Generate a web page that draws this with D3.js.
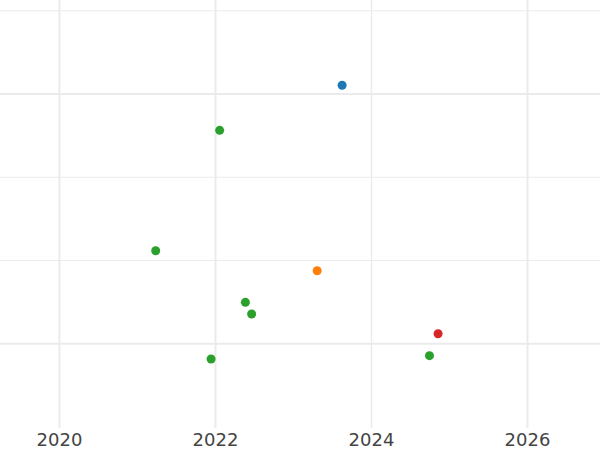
<!DOCTYPE html>
<html>
<head>
<meta charset="utf-8">
<script src="https://cdn.jsdelivr.net/npm/d3@7"></script>
<style>
  body { margin: 0; background: #fff; }
  svg { display: block; }
</style>
</head>
<body>
<div id="chart"></div>
<script>
// point data
const years  = [2023.63, 2022.06, 2021.24, 2023.31, 2022.39, 2022.47, 2024.86, 2024.75, 2021.95];
const values = [3.105, 2.564, 1.117, 0.877, 0.497, 0.357, 0.120, -0.144, -0.184];
const groups = ["A", "B", "B", "C", "B", "B", "D", "B", "B"];

const groupNames = ["A", "B", "C", "D"];
const groupColors = ["#1f77b4", "#2ca02c", "#ff7f0e", "#d62728"];

// ticks / gridlines
const xTicks = [2020, 2022, 2024, 2026];
const yMajor = [0, 3];
const yMinor = [1, 2, 4];

const width = 600, height = 450;
const plotBottom = 428;

const svg = d3.select("#chart")
  .append("svg")
  .attr("width", width)
  .attr("height", height);

const x = d3.scaleLinear()
  .domain([2019.244, 2026.936])
  .range([0, width]);

const y = d3.scaleLinear()
  .domain([-1.013, 4.13])
  .range([plotBottom, 0]);

const color = d3.scaleOrdinal()
  .domain(groupNames)
  .range(groupColors);

// horizontal grid
svg.append("g")
  .selectAll("line")
  .data(yMinor)
  .join("line")
  .attr("x1", 0).attr("x2", width)
  .attr("y1", d => y(d)).attr("y2", d => y(d))
  .attr("stroke", "#ebebeb")
  .attr("stroke-width", 1);

svg.append("g")
  .selectAll("line")
  .data(yMajor)
  .join("line")
  .attr("x1", 0).attr("x2", width)
  .attr("y1", d => y(d)).attr("y2", d => y(d))
  .attr("stroke", "#ebebeb")
  .attr("stroke-width", 2);

// x axis with full-height grid
const xAxis = svg.append("g")
  .attr("transform", `translate(0,${plotBottom})`)
  .call(d3.axisBottom(x)
    .tickValues(xTicks)
    .tickFormat(d3.format("d"))
    .tickSize(-plotBottom)
    .tickPadding(5));

xAxis.select(".domain").remove();
xAxis.selectAll(".tick line")
  .attr("stroke", "#ebebeb")
  .attr("stroke-width", d => d === 2024 ? 1.5 : 2);
xAxis.selectAll(".tick text")
  .attr("fill", "#444")
  .style("font-family", "DejaVu Sans, sans-serif")
  .style("font-size", "18px");

// points
const data = years.map((d, i) => ({ year: d, value: values[i], group: groups[i] }));

svg.append("g")
  .selectAll("circle")
  .data(data)
  .join("circle")
  .attr("cx", d => x(d.year))
  .attr("cy", d => y(d.value))
  .attr("r", 4.5)
  .attr("fill", d => color(d.group));
</script>
</body>
</html>
